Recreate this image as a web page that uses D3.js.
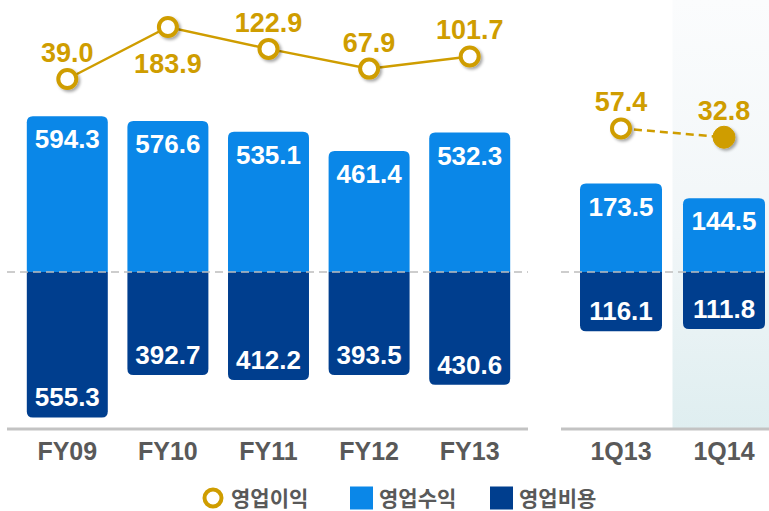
<!DOCTYPE html>
<html>
<head>
<meta charset="utf-8">
<script src="https://cdn.jsdelivr.net/npm/d3@7"></script>
<style>
  html, body { margin: 0; padding: 0; background: #ffffff; }
  svg { display: block; }
</style>
</head>
<body>
<svg id="chart" width="769" height="511"></svg>
<script>
// Annual figures
const yearCats = ["FY09", "FY10", "FY11", "FY12", "FY13"];
const yearRevenue = [594.3, 576.6, 535.1, 461.4, 532.3];
const yearExpense = [555.3, 392.7, 412.2, 393.5, 430.6];
const yearProfit = [39.0, 183.9, 122.9, 67.9, 101.7];

// Quarterly figures
const quarterCats = ["1Q13", "1Q14"];
const quarterRevenue = [173.5, 144.5];
const quarterExpense = [116.1, 111.8];
const quarterProfit = [57.4, 32.8];

const legendLabels = ["영업이익", "영업수익", "영업비용"];

const C = {
  revenue: "#0a87e8",
  expense: "#003e8e",
  profit: "#cf9d00",
  axis: "#c3c3c3",
  dash: "#bdbdbd",
  text: "#595959"
};
const numFont = "'Liberation Sans', Arial, sans-serif";
const krFont = "'Noto Sans CJK KR', 'Noto Sans', sans-serif";

const svg = d3.select("#chart");
const defs = svg.append("defs");

const grad = defs.append("linearGradient")
  .attr("id", "hl").attr("x1", 0).attr("y1", 0).attr("x2", 0).attr("y2", 1);
grad.append("stop").attr("offset", "0%").attr("stop-color", "#fbfcfd");
grad.append("stop").attr("offset", "55%").attr("stop-color", "#f1f6f8");
grad.append("stop").attr("offset", "100%").attr("stop-color", "#dfeef0");

const shadow = defs.append("filter").attr("id", "shadow")
  .attr("x", "-50%").attr("y", "-50%").attr("width", "200%").attr("height", "200%");
shadow.append("feDropShadow").attr("dx", 2).attr("dy", 2).attr("stdDeviation", 1.6)
  .attr("flood-color", "#000").attr("flood-opacity", 0.35);

const baseY = 272;
const axisY = 429;

// Panels: annual on the left, quarterly on the right
const panels = [
  {
    cats: yearCats, rev: yearRevenue, exp: yearExpense, prof: yearProfit,
    x: d3.scaleBand().domain(yearCats).range([17, 520]).paddingInner(0.195).paddingOuter(0.0975),
    h: d3.scaleLinear().domain([0, 1000]).range([0, 262]),
    yl: d3.scaleLinear().domain([0, 200]).range([93, 21.2]),
    axisX: [7, 528], dashed: false
  },
  {
    cats: quarterCats, rev: quarterRevenue, exp: quarterExpense, prof: quarterProfit,
    x: d3.scaleBand().domain(quarterCats).range([569.5, 775.5]).paddingInner(0.204).paddingOuter(0.102),
    h: d3.scaleLinear().domain([0, 1000]).range([0, 510]),
    yl: d3.scaleLinear().domain([0, 200]).range([149, 77.2]),
    axisX: [561, 769], dashed: true
  }
];

// Highlighted latest quarter
{
  const qx = panels[1].x;
  const x0 = qx("1Q14") - qx.step() * qx.paddingInner() / 2;
  svg.append("rect").attr("x", x0).attr("y", 0)
    .attr("width", 769 - x0).attr("height", axisY).attr("fill", "url(#hl)");
}

function topRounded(x, y, w, h, r) {
  return `M${x},${y + h}V${y + r}Q${x},${y} ${x + r},${y}H${x + w - r}Q${x + w},${y} ${x + w},${y + r}V${y + h}Z`;
}
function bottomRounded(x, y, w, h, r) {
  return `M${x},${y}V${y + h - r}Q${x},${y + h} ${x + r},${y + h}H${x + w - r}Q${x + w},${y + h} ${x + w},${y + h - r}V${y}Z`;
}

panels.forEach((p, pi) => {
  const g = svg.append("g");
  const bw = p.x.bandwidth();

  // revenue bars above the baseline
  g.selectAll("path.rev").data(p.cats).join("path")
    .attr("d", (c, i) => topRounded(p.x(c), baseY - p.h(p.rev[i]), bw, p.h(p.rev[i]), 6))
    .attr("fill", C.revenue);
  // expense bars below the baseline
  g.selectAll("path.exp").data(p.cats).join("path")
    .attr("d", (c, i) => bottomRounded(p.x(c), baseY, bw, p.h(p.exp[i]), 6))
    .attr("fill", C.expense);

  g.selectAll("text.rev").data(p.cats).join("text")
    .attr("x", c => p.x(c) + bw / 2)
    .attr("y", (c, i) => baseY - p.h(p.rev[i]) + 32)
    .attr("text-anchor", "middle").attr("fill", "#fff")
    .attr("font-family", numFont).attr("font-weight", "bold").attr("font-size", 26)
    .text((c, i) => p.rev[i].toFixed(1));
  g.selectAll("text.exp").data(p.cats).join("text")
    .attr("x", c => p.x(c) + bw / 2)
    .attr("y", (c, i) => baseY + p.h(p.exp[i]) - 11)
    .attr("text-anchor", "middle").attr("fill", "#fff")
    .attr("font-family", numFont).attr("font-weight", "bold").attr("font-size", 26)
    .text((c, i) => p.exp[i].toFixed(1));

  // dashed zero line
  g.append("line").attr("x1", p.axisX[0]).attr("x2", p.axisX[1])
    .attr("y1", baseY).attr("y2", baseY)
    .attr("stroke", C.dash).attr("stroke-width", 1.5).attr("stroke-dasharray", "8,5");

  // category axis
  g.append("line").attr("x1", p.axisX[0]).attr("x2", p.axisX[1])
    .attr("y1", axisY).attr("y2", axisY)
    .attr("stroke", C.axis).attr("stroke-width", 3);
  const ax = g.append("g").attr("transform", `translate(0,${axisY})`)
    .call(d3.axisBottom(p.x).tickSize(0).tickPadding(13));
  ax.select(".domain").remove();
  ax.selectAll("text")
    .attr("font-family", numFont).attr("font-weight", "bold").attr("font-size", 25)
    .attr("fill", C.text).attr("dy", "0.71em");

  // operating profit line
  const cx = c => p.x(c) + bw / 2;
  const pts = p.cats.map((c, i) => [cx(c), p.yl(p.prof[i])]);
  g.append("path").attr("d", d3.line()(pts))
    .attr("fill", "none").attr("stroke", C.profit).attr("stroke-width", 2.5)
    .attr("stroke-dasharray", p.dashed ? "8,5" : null);

  g.selectAll("circle.prof").data(p.cats).join("circle")
    .attr("cx", cx).attr("cy", (c, i) => p.yl(p.prof[i]))
    .attr("r", (c, i) => (p.dashed && i === p.cats.length - 1) ? 11 : 9)
    .attr("fill", (c, i) => (p.dashed && i === p.cats.length - 1) ? C.profit : "#fff")
    .attr("stroke", C.profit).attr("stroke-width", (c, i) => (p.dashed && i === p.cats.length - 1) ? 1 : 4)
    .attr("filter", "url(#shadow)");

  g.selectAll("text.prof").data(p.cats).join("text")
    .attr("x", cx)
    .attr("y", (c, i) => {
      const y = p.yl(p.prof[i]);
      const isPeak = pi === 0 && p.prof[i] === d3.max(p.prof);
      return isPeak ? y + 46 : y - 17;
    })
    .attr("text-anchor", "middle").attr("fill", C.profit)
    .attr("font-family", numFont).attr("font-weight", "bold").attr("font-size", 27)
    .text((c, i) => p.prof[i].toFixed(1));
});

// legend
const lg = svg.append("g").attr("transform", "translate(0,498)");
lg.append("circle").attr("cx", 213).attr("cy", 0).attr("r", 8.5)
  .attr("fill", "#fff").attr("stroke", C.profit).attr("stroke-width", 4);
lg.append("rect").attr("x", 350).attr("y", -11.5).attr("width", 23).attr("height", 23).attr("fill", C.revenue);
lg.append("rect").attr("x", 490).attr("y", -11.5).attr("width", 23).attr("height", 23).attr("fill", C.expense);
[231, 379, 519].forEach((x, i) => {
  lg.append("text").attr("x", x).attr("y", 0).attr("dy", "0.36em")
    .attr("font-family", krFont).attr("font-weight", "bold").attr("font-size", 21)
    .attr("fill", C.text).text(legendLabels[i]);
});
</script>
</body>
</html>
